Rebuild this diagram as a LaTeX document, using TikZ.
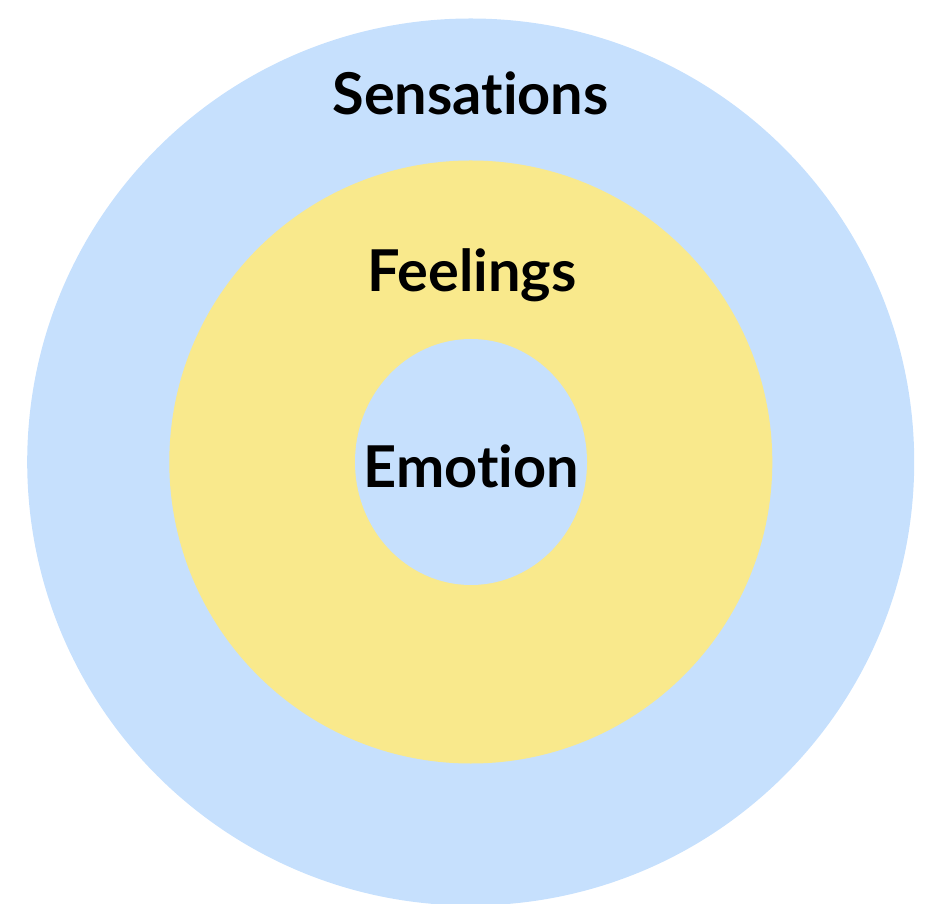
\documentclass[tikz,border=0pt]{standalone}
\usepackage{fontspec}
\setmainfont{Lato}[Ligatures=NoCommon]
\definecolor{ringblue}{RGB}{198,224,253}
\definecolor{ringyellow}{RGB}{249,233,140}
\begin{document}
\begin{tikzpicture}[x=0.01cm,y=-0.01cm,
  label text/.style={font=\fontsize{16.4}{19}\selectfont\bfseries, text=black, inner sep=0pt, anchor=base}]
\clip (0,0) rectangle (928,904);
\useasboundingbox (0,0) rectangle (928,904);

\fill[ringblue] (470.7,462) circle[radius=443.5];
\fill[ringyellow] (470.8,462) circle[radius=301.5];
\fill[ringblue] (471,462) ellipse[x radius=116, y radius=123];

\node[label text] (sensations) at (470.5,115) {Sensations};
\node[label text] (feelings) at (472,292) {Feelings};
\node[label text] (emotion) at (471.5,488) {Emotion};

\end{tikzpicture}
\end{document}
